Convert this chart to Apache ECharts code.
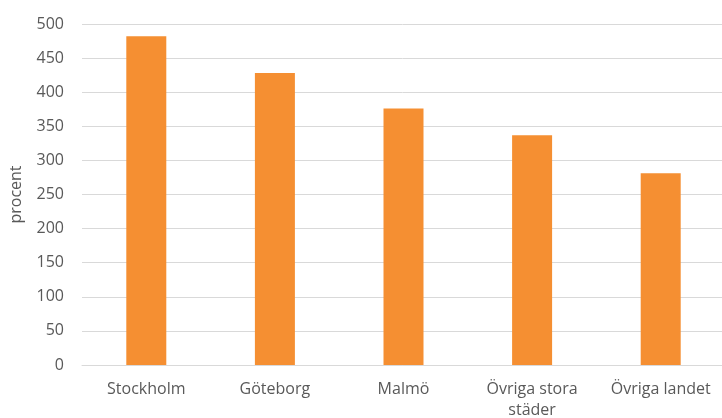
<!DOCTYPE html>
<html><head><meta charset="utf-8">
<script src="https://cdn.jsdelivr.net/npm/echarts@6/dist/echarts.min.js"></script>
<style>html,body{margin:0;padding:0;background:#fff}#c{width:722px;height:418px}</style>
</head><body><div id="c"></div>
<script>
const categories = ["Stockholm", "Göteborg", "Malmö", "Övriga stora\nstäder", "Övriga landet"];
const values = [482, 428, 376, 337, 281];
const yMin = 0, yMax = 500, yStep = 50;
const yName = "procent";

const chart = echarts.init(document.getElementById('c'), null, {renderer: 'canvas'});
const font = '"Open Sans", sans-serif';
chart.setOption({
  animation: false,
  grid: {left: 82, top: 24, width: 643, height: 341, containLabel: false, outerBoundsMode: 'none'},
  xAxis: {
    type: 'category', data: categories,
    axisLine: {lineStyle: {color: '#D9D9D9', width: 1}},
    axisTick: {show: false},
    axisLabel: {color: '#595959', fontSize: 16, fontFamily: font, margin: 14, lineHeight: 21, interval: 0}
  },
  yAxis: {
    type: 'value', min: yMin, max: yMax, interval: yStep,
    name: yName, nameLocation: 'middle', nameGap: 58, nameRotate: 90,
    nameTextStyle: {color: '#595959', fontSize: 16, fontFamily: font},
    axisLine: {show: false}, axisTick: {show: false},
    axisLabel: {color: '#595959', fontSize: 16, fontFamily: font, margin: 18},
    splitLine: {lineStyle: {color: '#D9D9D9', width: 1}}
  },
  series: [{
    type: 'bar', data: values, barWidth: 40,
    itemStyle: {color: '#F58F32'}
  }]
});
</script></body></html>
